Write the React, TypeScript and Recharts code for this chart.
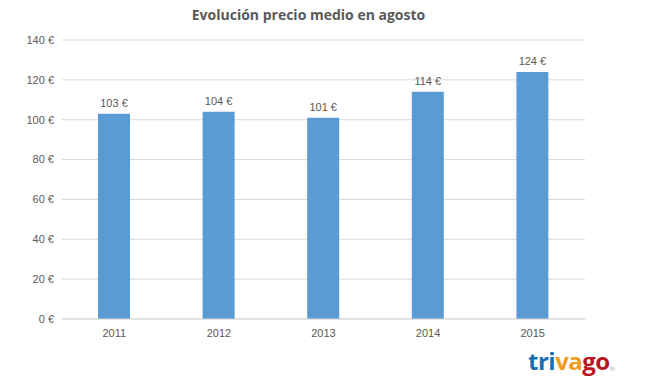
import React from "react";
import { BarChart, Bar, XAxis, YAxis, CartesianGrid, LabelList } from "recharts";

const years = ["2011", "2012", "2013", "2014", "2015"];
const prices = [103, 104, 101, 114, 124];
const yTicks = [0, 20, 40, 60, 80, 100, 120, 140];

const data = years.map((y, i) => ({ year: y, price: prices[i] }));

const FONT = "'Liberation Sans', Arial, sans-serif";

export default function App() {
  return (
    <div style={{ position: "absolute", left: 0, top: 0, width: 663, height: 386, background: "#fff" }}>
      <div
        style={{
          position: "absolute",
          left: 0,
          width: 617,
          top: 5,
          textAlign: "center",
          fontFamily: "'Open Sans', sans-serif",
          fontWeight: 700,
          fontSize: 14,
          color: "#595959",
        }}
      >
        Evolución precio medio en agosto
      </div>
      <BarChart
        width={663}
        height={386}
        data={data}
        margin={{ top: 40, right: 78, left: 0, bottom: 37 }}
        barCategoryGap={0}
      >
        <CartesianGrid vertical={false} stroke="#d9d9d9" />
        <XAxis
          dataKey="year"
          tickLine={false}
          axisLine={{ stroke: "#d9d9d9" }}
          tick={{ fill: "#595959", fontSize: 11, fontFamily: FONT }}
          height={30}
          tickMargin={4}
        />
        <YAxis
          width={62}
          domain={[0, 140]}
          ticks={yTicks}
          tickLine={false}
          axisLine={false}
          tickFormatter={(v: number) => `${v} €`}
          tick={{ fill: "#595959", fontSize: 11, fontFamily: FONT }}
        />
        <Bar dataKey="price" fill="#5b9bd5" barSize={32} isAnimationActive={false}>
          <LabelList
            dataKey="price"
            position="top"
            offset={7}
            formatter={(v: number) => `${v}\u00a0€`}
            style={{ fill: "#595959", fontSize: 11, fontFamily: FONT }}
          />
        </Bar>
      </BarChart>
      <div
        style={{
          position: "absolute",
          left: 528,
          top: 346,
          fontFamily: "'Open Sans', sans-serif",
          fontWeight: 700,
          fontSize: 24,
          letterSpacing: -0.5,
          lineHeight: "30px",
        }}
      >
        <span style={{ color: "#1a6fb5" }}>tri</span>
        <span style={{ color: "#f39c1e" }}>va</span>
        <span style={{ color: "#b8161e" }}>go</span>
        <span style={{ color: "#bbbbbb", fontSize: 6, verticalAlign: "top", position: "relative", top: 8 }}>®</span>
      </div>
    </div>
  );
}
